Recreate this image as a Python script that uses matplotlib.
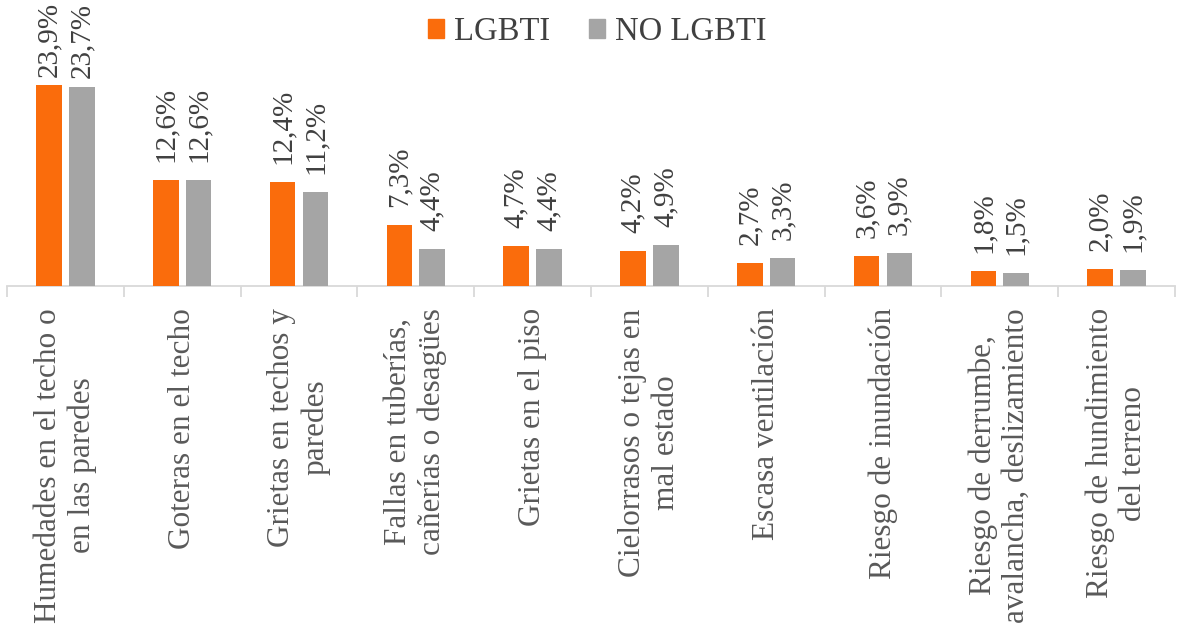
import matplotlib
matplotlib.use("Agg")
import matplotlib.pyplot as plt
from matplotlib.patches import Patch

categories = [
    "Humedades en el techo o\nen las paredes",
    "Goteras en el techo",
    "Grietas en techos y\nparedes",
    "Fallas en tuberías,\ncañerías o desagües",
    "Grietas en el piso",
    "Cielorrasos o tejas en\nmal estado",
    "Escasa ventilación",
    "Riesgo de inundación",
    "Riesgo de derrumbe,\navalancha, deslizamiento",
    "Riesgo de hundimiento\ndel terreno",
]
lgbti = [23.9, 12.6, 12.4, 7.3, 4.7, 4.2, 2.7, 3.6, 1.8, 2.0]
no_lgbti = [23.7, 12.6, 11.2, 4.4, 4.4, 4.9, 3.3, 3.9, 1.5, 1.9]
series_names = ["LGBTI", "NO LGBTI"]

ORANGE = "#FA6C0C"
GRAY = "#A5A5A5"
TEXT = "#404040"
LABEL = "#595959"
AXIS = "#D9D9D9"

plt.rcParams["font.family"] = ["Liberation Serif", "DejaVu Serif"]

W, H = 1177, 630
fig = plt.figure(figsize=(W / 100, H / 100), dpi=100)
base_y = 286
px_per_unit = 8.41
ymax = 30
top_px = base_y - ymax * px_per_unit
ax = fig.add_axes([7 / W, (H - base_y) / H, (1175 - 7) / W, (base_y - top_px) / H])

x = list(range(len(categories)))
bw = 0.22
off = 0.14
xo = [i - off for i in x]
xg = [i + off for i in x]
ax.bar(xo, lgbti, width=bw, color=ORANGE, zorder=3)
ax.bar(xg, no_lgbti, width=bw, color=GRAY, zorder=3)

ax.set_xlim(-0.5, len(categories) - 0.5)
ax.set_ylim(0, ymax)
for s in ["top", "right", "left"]:
    ax.spines[s].set_visible(False)
ax.spines["bottom"].set_color(AXIS)
ax.spines["bottom"].set_linewidth(1.3)
ax.set_yticks([])

ax.set_xticks(x)
ax.set_xticklabels(categories, rotation=90, va="top", ha="center",
                   multialignment="center", fontsize=22.5, color=LABEL,
                   linespacing=1.2)
ax.tick_params(axis="x", which="major", length=0, pad=16)
ax.set_xticks([i - 0.5 for i in range(len(categories) + 1)], minor=True)
ax.tick_params(axis="x", which="minor", length=8, width=1.3, color=AXIS)

def fmt(v):
    return f"{v:.1f}%".replace(".", ",")

for xs, vals in ((xo, lgbti), (xg, no_lgbti)):
    for xi, v in zip(xs, vals):
        gap = 13 if v < 20 else 6
        ax.annotate(fmt(v), (xi, v), xytext=(0, gap), textcoords="offset points",
                    rotation=90, ha="center", va="bottom", fontsize=21,
                    color=TEXT, annotation_clip=False)

handles = [Patch(color=ORANGE), Patch(color=GRAY)]
fig.legend(handles, series_names, loc="center", bbox_to_anchor=(597 / W, 1 - 32 / H),
           ncol=2, frameon=False, fontsize=23.5, handlelength=0.49, handleheight=0.49,
           handletextpad=0.3, columnspacing=1.2, labelcolor=TEXT)

fig.savefig("out.png", dpi=100)
